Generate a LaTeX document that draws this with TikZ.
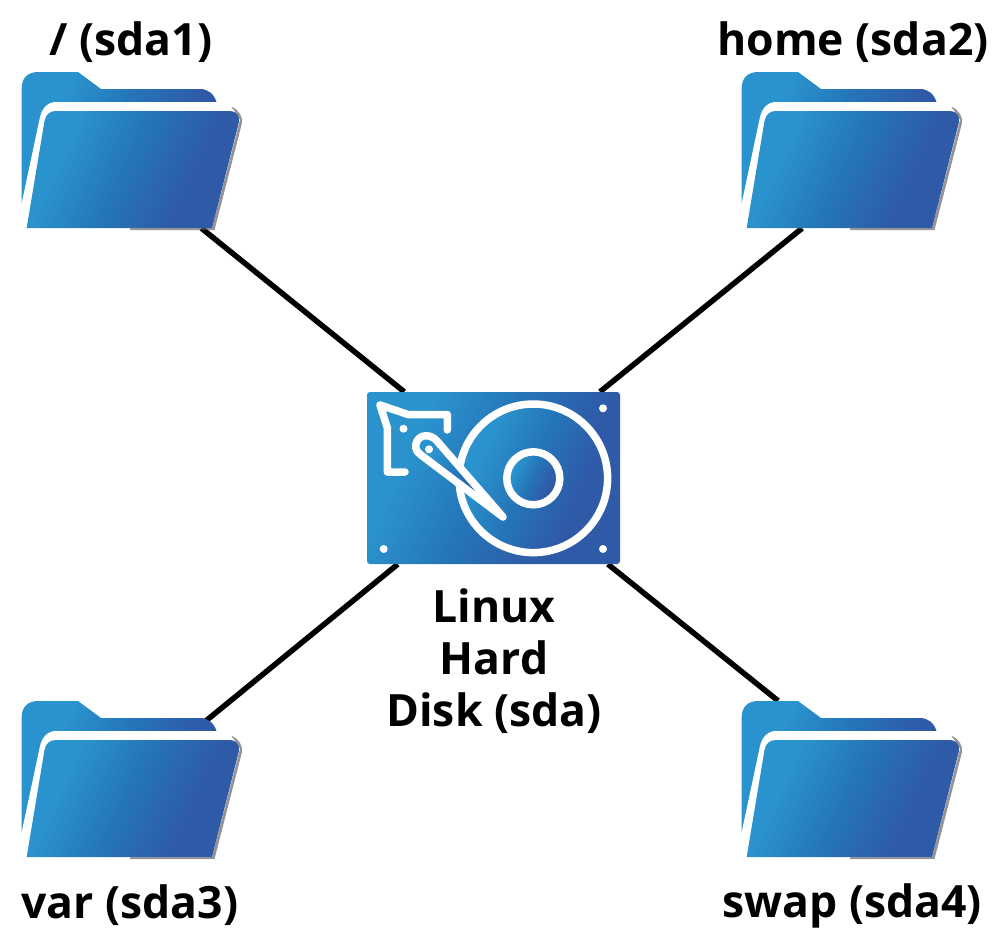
\documentclass[tikz,border=0pt]{standalone}
\usepackage{fontspec}
\setmainfont{Open Sans}
\definecolor{bluea}{HTML}{2A92CC}
\definecolor{blueb}{HTML}{2575B8}
\definecolor{bluec}{HTML}{2F5AA8}
\pgfdeclarehorizontalshading{bluegrad}{100bp}{color(0bp)=(bluea); color(31bp)=(bluea); color(48bp)=(blueb); color(66bp)=(bluec); color(100bp)=(bluec)}
\tikzset{
  grad/.style={shading=bluegrad, shading angle=-25},
  link/.style={draw=black, line width=5.5pt},
  lab/.style={font=\bfseries\fontsize{44.5}{52}\selectfont, align=center, inner sep=0pt, text=black},
  foldbox/.style={inner sep=0pt, minimum width=218pt, minimum height=156pt},
  diskbox/.style={inner sep=0pt, minimum width=253pt, minimum height=172pt},
  wl/.style={draw=white, line width=7.5pt, line cap=round, line join=round},
  wdot/.style={fill=white},
  pics/folder/.style={code={
    % back
    \path[grad]
      (21.7,203) -- (21.7,88) .. controls (21.7,78) and (28,72) .. (38,72) -- (78,72) -- (101,89) -- (200,89)
      .. controls (208,89) and (214,94) .. (216.5,102) -- (60,110) -- (30,205) -- cycle;
    % shadow
    \path[fill=black!70, opacity=.6] (232,107) .. controls (239,110) and (243,117) .. (242,123) -- (214.5,230) -- (130,230) -- (130,226) -- (210,226) -- cycle;
    % white sheet
    \path[fill=white] (21.7,203) -- (40,117) .. controls (42,108) and (48,102) .. (56,102) -- (216,102) -- (233,109) -- (240,120) -- (212,228) -- (26.7,228) -- cycle;
    % front
    \path[grad] (26.7,228) -- (44.5,121) .. controls (46,114) and (50,111) .. (56,111) -- (230,111)
      .. controls (236,111) and (240,116) .. (239,122) -- (212,228) -- cycle;
  }}
}
\begin{document}
\begin{tikzpicture}[x=1pt,y=-1pt]
\useasboundingbox (0,0) rectangle (1000,934);
\node[foldbox] (f1) at (131,150) {};
\node[foldbox] (f2) at (851,150) {};
\node[foldbox] (f3) at (131,779) {};
\node[foldbox] (f4) at (851,779) {};
\node[diskbox] (hdd) at (493.5,478) {};
\draw[link] (hdd.136.8) -- (f1.-48);
\draw[link] (hdd.39.2) -- (f2.238.4);
\draw[link] (hdd.222.6) -- ([yshift=-3pt]f3.center);
\draw[link] (hdd.-37.4) -- (f4.133.9);
\pic at (0,0) {folder};
\pic at (720,0) {folder};
\pic at (0,629) {folder};
\pic at (720,629) {folder};
% disk
\path[grad, rounded corners=3pt] (367,392) rectangle (620,564);
\path[grad] (533.3,478.3) circle[radius=74.3];
\draw[wl] (533.3,478.3) circle[radius=74.3];
\path[grad] (533.3,478.3) circle[radius=26.5];
\draw[wl] (533.3,478.3) circle[radius=26.5];
\path[wdot] (403.5,428.7) circle[radius=4];
\path[wdot] (603,408.3) circle[radius=4];
\path[wdot] (383.7,549) circle[radius=4];
\path[wdot] (603,549) circle[radius=4];
\draw[wl] (447.3,430) -- (447.3,414.5) -- (408,414.5) -- (380,405) -- (387.3,427.7) -- (387.3,472) -- (405,472);
% arm
\path[shading=bluegrad, shading angle=-40] (503,517) -- (437,441) .. controls (431,434) and (421,434) .. (417,441) .. controls (414,446) and (416,452) .. (421,455) -- cycle;
\draw[wl] (503,517) -- (437,441) .. controls (431,434) and (421,434) .. (417,441) .. controls (414,446) and (416,452) .. (421,455) -- cycle;
\path[wdot] (429,449.3) circle[radius=4];
% labels
\node[lab] (t1) at (131,42) {/ (sda1)};
\node[lab] (t2) at (853,42) {home (sda2)};
\node[lab] (t3) at (130,905) {var (sda3)};
\node[lab] (t4) at (852,906) {swap (sda4)};
\node[lab] (t5) at (494,661) {Linux\\Hard\\Disk (sda)};
\end{tikzpicture}
\end{document}
